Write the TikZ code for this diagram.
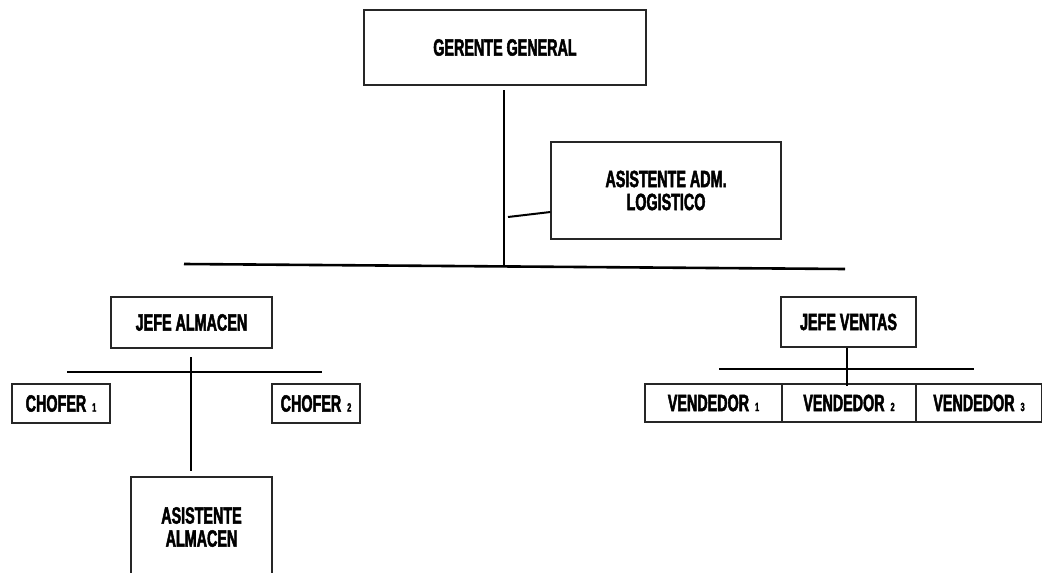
\documentclass[tikz,border=0pt]{standalone}
\usepackage{fontspec}
\setmainfont{Liberation Sans}[FakeStretch=0.61,BoldFeatures={FakeBold=2}]
\begin{document}
\begin{tikzpicture}[x=1pt,y=-1pt,
  box/.style={draw=black!85,line width=1.2pt,inner sep=0pt,align=center,
    font=\fontsize{23.5}{23}\selectfont\bfseries},
  bus/.style={line width=2.6pt},
  conn/.style={line width=1.6pt}]
\newcommand{\sm}[1]{\hspace{2pt}{\fontsize{12}{12}\selectfont #1}}
\useasboundingbox (0,0) rectangle (1042,573);
\node[box,minimum width=282pt,minimum height=75pt] (ger) at (505,47.5) {GERENTE GENERAL};
\node[box,minimum width=230pt,minimum height=97pt] (adm) at (666,190.5) {ASISTENTE ADM.\\ LOGISTICO};
\node[box,minimum width=161pt,minimum height=51pt] (jal) at (191.5,322.5) {JEFE ALMACEN};
\node[box,minimum width=135pt,minimum height=50pt] (jve) at (848.5,322) {JEFE VENTAS};
\node[box,minimum width=98pt,minimum height=39pt] (ch1) at (61,403.5) {CHOFER \sm{1}};
\node[box,minimum width=88pt,minimum height=39pt] (ch2) at (316,403.5) {CHOFER \sm{2}};
\node[box,minimum width=137pt,minimum height=38pt] (v1) at (713.5,403) {VENDEDOR \sm{1}};
\node[box,minimum width=134pt,minimum height=38pt] (v2) at (849,403) {VENDEDOR \sm{2}};
\node[box,minimum width=126pt,minimum height=38pt] (v3) at (979,403) {VENDEDOR \sm{3}};
\node[box,minimum width=141pt,minimum height=100pt] (asa) at (201.5,527) {ASISTENTE\\ ALMACEN};
% coordinates
\coordinate (busL) at (184,264);
\coordinate (busR) at (845,269);
\coordinate (gtop) at (504,90);
\coordinate (gbot) at (504,264.5);
\coordinate (admL) at (508,217);
\coordinate (alL) at (67,372);
\coordinate (alR) at (322,372);
\coordinate (alT) at (191,357);
\coordinate (alB) at (191,471);
\coordinate (veL) at (719,369);
\coordinate (veR) at (974,369);
\coordinate (veB) at (847,386);
% connectors
\draw[bus] (busL) -- (busR);
\draw[conn] (gtop) -- (gbot);
\draw[line width=2pt] (admL) -- (adm.west |- 0,212);
\draw[bus] (alL) -- (alR);
\draw[conn] (alT) -- (alB);
\draw[bus] (veL) -- (veR);
\draw[conn] (jve.south -| veB) -- (veB);
\end{tikzpicture}
\end{document}
